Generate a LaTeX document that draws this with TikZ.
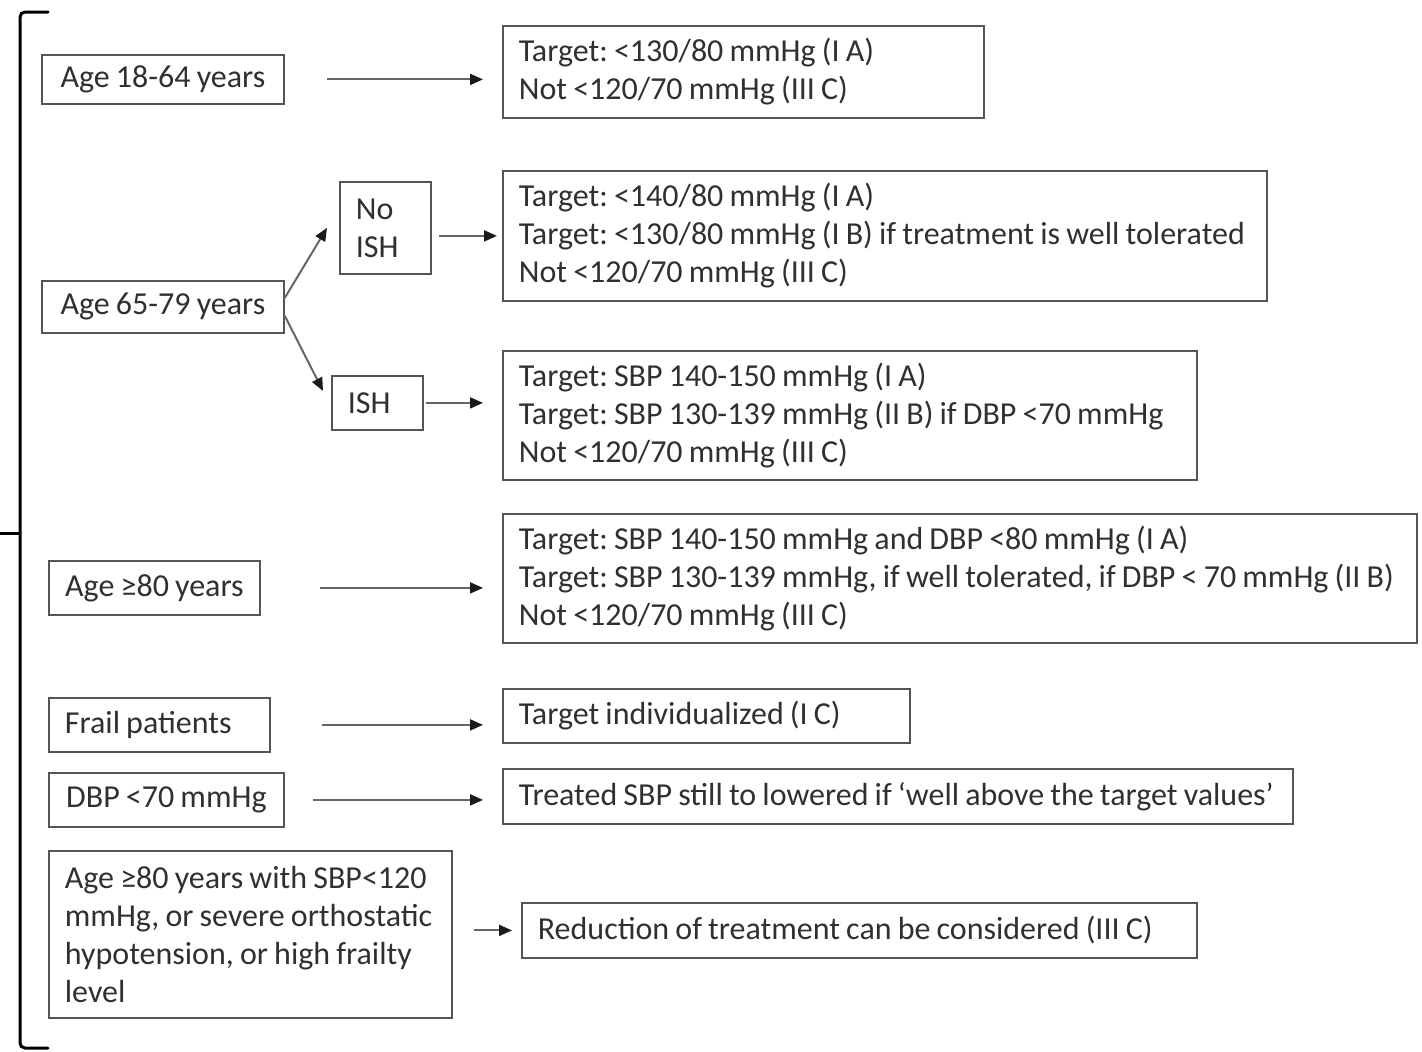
\documentclass[tikz,border=0pt]{standalone}
\usepackage{fontspec}
\setmainfont{Carlito}[WordSpace=0.85]
\usepackage{xcolor}
\usetikzlibrary{arrows.meta}

\definecolor{inkgray}{HTML}{303030}
\definecolor{framegray}{HTML}{555555}
\definecolor{tipgray}{HTML}{1A1A1A}

\frenchspacing
\hyphenpenalty=10000

\begin{document}
\begin{tikzpicture}[x=1pt, y=-1pt,
    every node/.style={font=\fontsize{32}{38}\selectfont, text=inkgray},
    group/.style={draw=framegray, line width=1.8pt, anchor=north west, inner xsep=16pt, inner ysep=0pt},
    target/.style={group, align=flush left},
    arr/.style={draw=framegray!90, line width=2pt, -{Triangle[length=13pt,width=11pt,color=tipgray]}},
    bracket/.style={line width=3pt, line cap=round, rounded corners=5pt}]
    \useasboundingbox (0,0) rectangle (1422,1052);
    % left bracket
    \draw[bracket] (48,12) -- (20,12) -- (20,1048) -- (48,1048);
    \draw[bracket] (20,533) -- (0,533);
    % age groups
    \node[group, minimum width=242pt, minimum height=49pt] (age1) at (41,54) {Age 18-64 years};
    \node[group, minimum width=242pt, minimum height=52pt] (age2) at (41,280) {Age 65-79 years};
    \node[target, text width=59pt, minimum height=92pt] (noish) at (339,181) {No\\ISH};
    \node[target, text width=59pt, minimum height=54pt] (ish) at (331,375) {ISH};
    \node[group, minimum width=211pt, minimum height=54pt] (age3) at (48,560) {Age ≥80 years};
    \node[target, text width=189pt, minimum height=54pt] (frail) at (48,697) {Frail patients};
    \node[group, minimum width=235pt, minimum height=54pt] (dbp) at (48,772) {DBP <70 mmHg};
    \node[target, text width=371pt, minimum height=167pt] (frailty) at (48,850) {Age ≥80 years with SBP<120\\mmHg, or severe orthostatic\\hypotension, or high frailty\\level};
    % targets
    \node[target, text width=449pt, minimum height=92pt] (tgt1) at (502,25) {Target: <130/80 mmHg (I A)\\Not <120/70 mmHg (III C)};
    \node[target, text width=732pt, minimum height=130pt] (tgt2) at (502,170) {Target: <140/80 mmHg (I A)\\Target: <130/80 mmHg (I B) if treatment is well tolerated\\Not <120/70 mmHg (III C)};
    \node[target, text width=662pt, minimum height=129pt] (tgt3) at (502,350) {Target: SBP 140-150 mmHg (I A)\\Target: SBP 130-139 mmHg (II B) if DBP <70 mmHg\\Not <120/70 mmHg (III C)};
    \node[target, text width=882pt, minimum height=129pt] (tgt4) at (502,513) {Target: SBP 140-150 mmHg and DBP <80 mmHg (I A)\\Target: SBP 130-139 mmHg, if well tolerated, if DBP < 70 mmHg (II B)\\Not <120/70 mmHg (III C)};
    \node[target, text width=375pt, minimum height=54pt] (tgt5) at (502,688) {Target individualized (I C)};
    \node[target, text width=758pt, minimum height=55pt] (tgt6) at (502,768) {Treated SBP still to lowered if ‘well above the target values’};
    \node[target, text width=643pt, minimum height=55pt] (tgt7) at (521,902) {Reduction of treatment can be considered (III C)};
    % arrows
    \draw[arr, shorten <=42pt, shorten >=19pt] (age1) -- (age1 -| tgt1.west);
    \draw[arr] ([yshift=9pt]age2.east) -- ([xshift=-12pt]noish.west);
    \draw[arr] ([yshift=-9pt]age2.east) -- ([xshift=-8pt, yshift=12pt]ish.west);
    \draw[arr, shorten <=7pt, shorten >=5pt] (noish.east |- tgt2) -- (tgt2.west);
    \draw[arr, shorten <=2pt, shorten >=19pt] (ish) -- (ish -| tgt3.west);
    \draw[arr, shorten <=59pt, shorten >=19pt] (age3) -- (age3 -| tgt4.west);
    \draw[arr, shorten <=51pt, shorten >=19pt] (frail) -- (frail -| tgt5.west);
    \draw[arr, shorten <=28pt, shorten >=19pt] (dbp) -- (dbp -| tgt6.west);
    \draw[arr, shorten <=21pt, shorten >=9pt] (frailty.east |- tgt7) -- (tgt7.west);
\end{tikzpicture}
\end{document}
